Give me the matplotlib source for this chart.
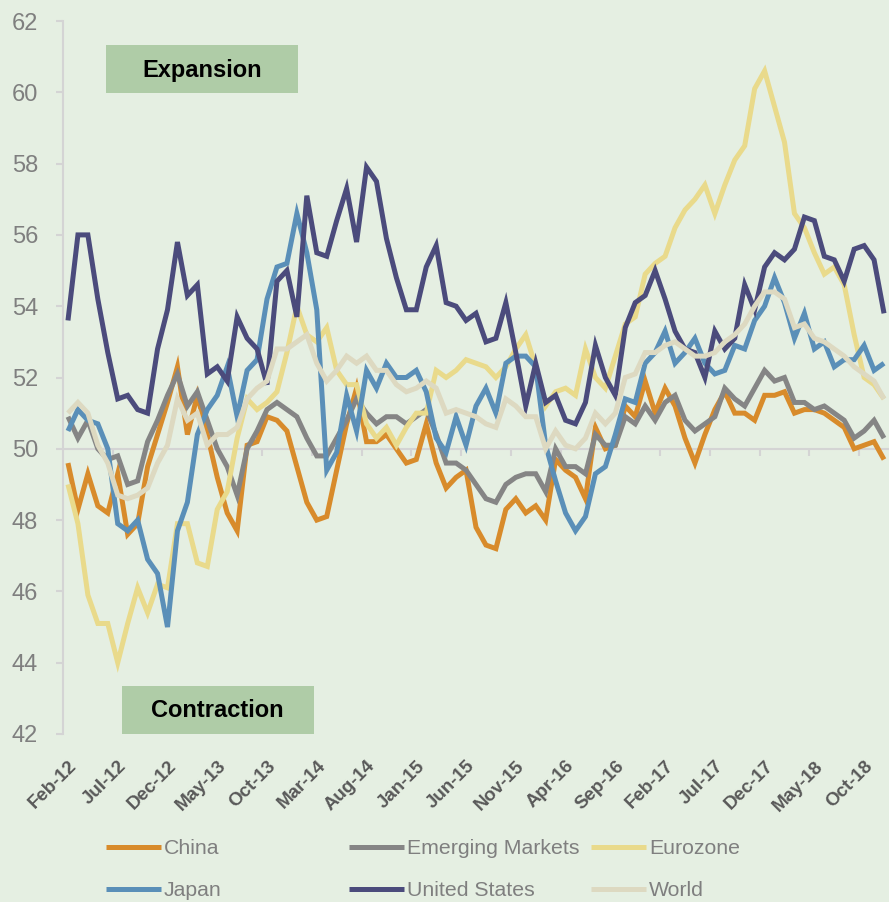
import matplotlib
matplotlib.use("Agg")
import matplotlib.pyplot as plt
from matplotlib.patches import Rectangle
import numpy as np

# ---------------- data ----------------
months = ["Feb-12", "Mar-12", "Apr-12", "May-12", "Jun-12", "Jul-12", "Aug-12", "Sep-12", "Oct-12", "Nov-12",
          "Dec-12", "Jan-13", "Feb-13", "Mar-13", "Apr-13", "May-13", "Jun-13", "Jul-13", "Aug-13", "Sep-13",
          "Oct-13", "Nov-13", "Dec-13", "Jan-14", "Feb-14", "Mar-14", "Apr-14", "May-14", "Jun-14", "Jul-14",
          "Aug-14", "Sep-14", "Oct-14", "Nov-14", "Dec-14", "Jan-15", "Feb-15", "Mar-15", "Apr-15", "May-15",
          "Jun-15", "Jul-15", "Aug-15", "Sep-15", "Oct-15", "Nov-15", "Dec-15", "Jan-16", "Feb-16", "Mar-16",
          "Apr-16", "May-16", "Jun-16", "Jul-16", "Aug-16", "Sep-16", "Oct-16", "Nov-16", "Dec-16", "Jan-17",
          "Feb-17", "Mar-17", "Apr-17", "May-17", "Jun-17", "Jul-17", "Aug-17", "Sep-17", "Oct-17", "Nov-17",
          "Dec-17", "Jan-18", "Feb-18", "Mar-18", "Apr-18", "May-18", "Jun-18", "Jul-18", "Aug-18", "Sep-18",
          "Oct-18", "Nov-18", "Dec-18"]

china = [49.6, 48.3, 49.3, 48.4, 48.2, 49.3, 47.6, 47.9, 49.5, 50.4,
         51.3, 52.3, 50.4, 51.5, 50.4, 49.2, 48.2, 47.7, 50.1, 50.2,
         50.9, 50.8, 50.5, 49.5, 48.5, 48.0, 48.1, 49.4, 50.7, 51.7,
         50.2, 50.2, 50.4, 50.0, 49.6, 49.7, 50.7, 49.6, 48.9, 49.2,
         49.4, 47.8, 47.3, 47.2, 48.3, 48.6, 48.2, 48.4, 48.0, 49.7,
         49.4, 49.2, 48.6, 50.6, 50.0, 50.1, 51.2, 50.9, 51.9, 51.0,
         51.7, 51.2, 50.3, 49.6, 50.4, 51.1, 51.6, 51.0, 51.0, 50.8,
         51.5, 51.5, 51.6, 51.0, 51.1, 51.1, 51.0, 50.8, 50.6, 50.0,
         50.1, 50.2, 49.7]

emerging = [50.9, 50.3, 50.8, 50.0, 49.7, 49.8, 49.0, 49.1, 50.2, 50.8,
            51.5, 52.1, 51.2, 51.6, 50.8, 50.0, 49.5, 48.7, 50.0, 50.5,
            51.1, 51.3, 51.1, 50.9, 50.3, 49.8, 49.8, 50.3, 50.8, 51.4,
            51.0, 50.7, 50.9, 50.9, 50.7, 50.9, 51.1, 50.4, 49.6, 49.6,
            49.4, 49.0, 48.6, 48.5, 49.0, 49.2, 49.3, 49.3, 48.8, 50.0,
            49.5, 49.5, 49.3, 50.4, 50.1, 50.1, 50.9, 50.7, 51.2, 50.8,
            51.3, 51.5, 50.8, 50.5, 50.7, 50.9, 51.7, 51.4, 51.2, 51.7,
            52.2, 51.9, 52.0, 51.3, 51.3, 51.1, 51.2, 51.0, 50.8, 50.3,
            50.5, 50.8, 50.3]

eurozone = [49.0, 47.9, 45.9, 45.1, 45.1, 44.0, 45.1, 46.1, 45.4, 46.2,
            46.1, 47.9, 47.9, 46.8, 46.7, 48.3, 48.8, 50.3, 51.4, 51.1,
            51.3, 51.6, 52.7, 54.0, 53.2, 53.0, 53.4, 52.2, 51.8, 51.8,
            50.7, 50.3, 50.6, 50.1, 50.6, 51.0, 51.0, 52.2, 52.0, 52.2,
            52.5, 52.4, 52.3, 52.0, 52.3, 52.8, 53.2, 52.3, 51.2, 51.6,
            51.7, 51.5, 52.8, 52.0, 51.7, 52.6, 53.5, 53.7, 54.9, 55.2,
            55.4, 56.2, 56.7, 57.0, 57.4, 56.6, 57.4, 58.1, 58.5, 60.1,
            60.6, 59.6, 58.6, 56.6, 56.2, 55.5, 54.9, 55.1, 54.6, 53.2,
            52.0, 51.8, 51.4]

japan = [50.5, 51.1, 50.8, 50.7, 50.0, 47.9, 47.7, 48.0, 46.9, 46.5,
         45.0, 47.7, 48.5, 50.4, 51.1, 51.5, 52.3, 50.9, 52.2, 52.5,
         54.2, 55.1, 55.2, 56.6, 55.5, 53.9, 49.4, 49.9, 51.5, 50.5,
         52.2, 51.7, 52.4, 52.0, 52.0, 52.2, 51.6, 50.3, 49.9, 50.9,
         50.1, 51.2, 51.7, 51.0, 52.4, 52.6, 52.6, 52.3, 50.1, 49.1,
         48.2, 47.7, 48.1, 49.3, 49.5, 50.4, 51.4, 51.3, 52.4, 52.7,
         53.3, 52.4, 52.7, 53.1, 52.4, 52.1, 52.2, 52.9, 52.8, 53.6,
         54.0, 54.8, 54.1, 53.1, 53.8, 52.8, 53.0, 52.3, 52.5, 52.5,
         52.9, 52.2, 52.4]

united_states = [53.6, 56.0, 56.0, 54.2, 52.7, 51.4, 51.5, 51.1, 51.0, 52.8,
                 53.9, 55.8, 54.3, 54.6, 52.1, 52.3, 51.9, 53.7, 53.1, 52.8,
                 51.8, 54.7, 55.0, 53.7, 57.1, 55.5, 55.4, 56.4, 57.3, 55.8,
                 57.9, 57.5, 55.9, 54.8, 53.9, 53.9, 55.1, 55.7, 54.1, 54.0,
                 53.6, 53.8, 53.0, 53.1, 54.1, 52.7, 51.2, 52.4, 51.3, 51.5,
                 50.8, 50.7, 51.3, 52.9, 52.0, 51.5, 53.4, 54.1, 54.3, 55.0,
                 54.2, 53.3, 52.8, 52.7, 52.0, 53.3, 52.8, 53.1, 54.6, 53.9,
                 55.1, 55.5, 55.3, 55.6, 56.5, 56.4, 55.4, 55.3, 54.7, 55.6,
                 55.7, 55.3, 53.8]

world = [51.0, 51.3, 51.0, 50.1, 49.6, 48.7, 48.6, 48.7, 48.9, 49.6,
         50.1, 51.4, 50.8, 51.0, 50.1, 50.4, 50.4, 50.6, 51.4, 51.7,
         51.9, 52.8, 52.8, 53.0, 53.2, 52.4, 51.9, 52.2, 52.6, 52.4,
         52.6, 52.2, 52.2, 51.8, 51.6, 51.7, 51.9, 51.7, 51.0, 51.1,
         51.0, 50.9, 50.7, 50.6, 51.4, 51.2, 50.9, 50.9, 50.0, 50.5,
         50.1, 50.0, 50.3, 51.0, 50.7, 51.0, 52.0, 52.1, 52.7, 52.7,
         52.9, 53.0, 52.8, 52.6, 52.6, 52.7, 53.0, 53.2, 53.5, 54.0,
         54.4, 54.4, 54.2, 53.4, 53.5, 53.1, 53.0, 52.8, 52.6, 52.3,
         52.1, 51.9, 51.4]

series_names = ["China", "Emerging Markets", "Eurozone", "Japan", "United States", "World"]
series_values = [china, emerging, eurozone, japan, united_states, world]
series_colors = ["#d88b2b", "#858585", "#e9da8b", "#5a8fb8", "#4b4b7c", "#ddd9c1"]

y_ticks = [42, 44, 46, 48, 50, 52, 54, 56, 58, 60, 62]
label_step = 5

# ---------------- figure ----------------
BG = "#e5efe2"
W, H = 889, 902
fig = plt.figure(figsize=(W / 100, H / 100), dpi=100, facecolor=BG)
ax = fig.add_axes([63 / W, 1 - 734 / H, (W - 63) / W, (734 - 21) / H])
ax.set_facecolor(BG)

x = np.arange(len(months))
handles = {}
for name, vals, col in zip(series_names, series_values, series_colors):
    ln, = ax.plot(x, vals, color=col, lw=3.6, solid_joinstyle="miter",
                  solid_capstyle="butt", label=name, zorder=3)
    handles[name] = ln

ax.set_xlim(-0.5, len(months) - 0.5)
ax.set_ylim(42, 62)

for s in ["top", "right", "bottom"]:
    ax.spines[s].set_visible(False)
ax.spines["left"].set_color("#d4d4d4")
ax.spines["left"].set_linewidth(1.5)

ax.set_yticks(y_ticks)
ax.set_yticklabels([str(v) for v in y_ticks], fontfamily="Liberation Sans", fontsize=17, color="#7f7f7f")
ax.tick_params(axis="y", length=5, width=1.5, color="#d4d4d4", pad=13)

# category axis crossing at 50
ax.axhline(50, color="#d4d4d4", lw=1.5, zorder=1)
bounds = np.arange(label_step - 0.5, len(months) - 1, label_step)
ax.vlines(bounds, 49.8, 50, color="#d4d4d4", lw=1.5, zorder=1)

xt = x[::label_step]
ax.set_xticks(xt)
ax.set_xticklabels([months[i] for i in xt], rotation=45, ha="right", va="top",
                   rotation_mode="anchor", fontfamily="Liberation Sans",
                   fontweight="bold", fontsize=13.5, color="#595959")
ax.tick_params(axis="x", length=0, pad=17)

# annotation boxes
ax.add_patch(Rectangle((3.8, 59.98), 19.3, 1.35, facecolor="#afcca7", edgecolor="none", zorder=2))
ax.text(13.45, 60.6, "Expansion", ha="center", va="center", fontfamily="Liberation Sans",
        fontweight="bold", fontsize=17, color="black", zorder=4)
ax.add_patch(Rectangle((5.4, 42.0), 19.3, 1.35, facecolor="#afcca7", edgecolor="none",
                       zorder=2, clip_on=False))
ax.text(15.05, 42.65, "Contraction", ha="center", va="center", fontfamily="Liberation Sans",
        fontweight="bold", fontsize=17, color="black", zorder=4)

# legend: three columns
cols = [["China", "Japan"], ["Emerging Markets", "United States"], ["Eurozone", "World"]]
col_x = [106, 349, 591]
for names, cx in zip(cols, col_x):
    leg = fig.legend(handles=[handles[n] for n in names], labels=names,
                     loc="upper left", bbox_to_anchor=(cx / W, 1 - 839 / H),
                     frameon=False, borderpad=0, borderaxespad=0,
                     handlelength=2.6, handletextpad=0.12, labelspacing=1.1,
                     prop={"family": "Liberation Sans", "size": 15.3})
    for t in leg.get_texts():
        t.set_color("#7f7f7f")

fig.savefig("out.png", dpi=100, facecolor=BG)
